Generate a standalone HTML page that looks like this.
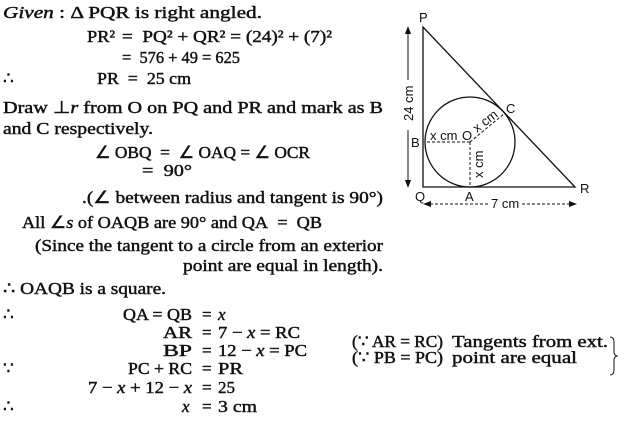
<!DOCTYPE html>
<html><head><meta charset="utf-8"><style>
html,body{margin:0;padding:0;background:#fff;width:630px;height:422px;overflow:hidden}
svg{display:block}
.t{font-family:"Liberation Serif",serif;font-size:17px;font-weight:normal;fill:#111;stroke:#111;stroke-width:0.45}
.s{font-family:"Liberation Sans",sans-serif;font-size:13px;fill:#111}
</style></head><body>
<svg width="630" height="422" viewBox="0 0 630 422" xmlns="http://www.w3.org/2000/svg">
<g class="t">
<text x="3" y="18" textLength="259" lengthAdjust="spacingAndGlyphs"><tspan font-style="italic">Given</tspan> : Δ PQR is right angled.</text>
<text x="87" y="42" textLength="28" lengthAdjust="spacingAndGlyphs">PR²</text>
<text x="122" y="42" textLength="210" lengthAdjust="spacingAndGlyphs">=&#160;&#160;PQ² + QR² = (24)² + (7)²</text>
<text x="122" y="63" textLength="118" lengthAdjust="spacingAndGlyphs">=&#160;&#160;576 + 49 = 625</text>
<text x="3" y="84">∴</text>
<text x="97" y="84" textLength="94" lengthAdjust="spacingAndGlyphs">PR&#160;&#160;=&#160;&#160;25 cm</text>
<text x="3" y="113" textLength="380" lengthAdjust="spacingAndGlyphs">Draw ⊥<tspan font-style="italic">r</tspan> from O on PQ and PR and mark as B</text>
<text x="3" y="134" textLength="150" lengthAdjust="spacingAndGlyphs">and C respectively.</text>
<text x="95" y="158" textLength="215" lengthAdjust="spacingAndGlyphs">∠ OBQ&#160;&#160;=&#160;&#160;∠ OAQ = ∠ OCR</text>
<text x="142" y="176" textLength="50" lengthAdjust="spacingAndGlyphs">=&#160;&#160;90°</text>
<text x="82" y="203" textLength="301" lengthAdjust="spacingAndGlyphs">.(∠ between radius and tangent is 90°)</text>
<text x="22" y="228" textLength="300" lengthAdjust="spacingAndGlyphs">All ∠<tspan font-style="italic">s</tspan> of OAQB are 90° and QA&#160;&#160;=&#160;&#160;QB</text>
<text x="35" y="251" textLength="348" lengthAdjust="spacingAndGlyphs">(Since the tangent to a circle from an exterior</text>
<text x="183" y="271" textLength="200" lengthAdjust="spacingAndGlyphs">point are equal in length).</text>
<text x="3" y="294" textLength="163" lengthAdjust="spacingAndGlyphs">∴ OAQB is a square.</text>

<text x="3" y="320">∴</text>
<text x="123" y="320" textLength="69" lengthAdjust="spacingAndGlyphs">QA = QB</text>
<text x="202" y="320">=</text>
<text x="218" y="320" font-style="italic">x</text>

<text x="163" y="338" textLength="29" lengthAdjust="spacingAndGlyphs">AR</text>
<text x="202" y="338">=</text>
<text x="218" y="338" textLength="82" lengthAdjust="spacingAndGlyphs">7 − <tspan font-style="italic">x</tspan> = RC</text>

<text x="163" y="356" textLength="29" lengthAdjust="spacingAndGlyphs">BP</text>
<text x="202" y="356">=</text>
<text x="218" y="356" textLength="89" lengthAdjust="spacingAndGlyphs">12 − <tspan font-style="italic">x</tspan> = PC</text>

<text x="3" y="374">∵</text>
<text x="128" y="374" textLength="64" lengthAdjust="spacingAndGlyphs">PC + RC</text>
<text x="202" y="374">=</text>
<text x="218" y="374" textLength="25" lengthAdjust="spacingAndGlyphs">PR</text>

<text x="88" y="393" textLength="104" lengthAdjust="spacingAndGlyphs">7 − <tspan font-style="italic">x</tspan> + 12 − <tspan font-style="italic">x</tspan></text>
<text x="202" y="393">=</text>
<text x="218" y="393">25</text>

<text x="3" y="412">∴</text>
<text x="182" y="412" font-style="italic">x</text>
<text x="202" y="412">=</text>
<text x="218" y="412" textLength="39" lengthAdjust="spacingAndGlyphs">3 cm</text>

<text x="352" y="347" textLength="91" lengthAdjust="spacingAndGlyphs">(∵ AR = RC)</text>
<text x="452" y="347" textLength="156" lengthAdjust="spacingAndGlyphs">Tangents from ext.</text>
<text x="352" y="363" textLength="91" lengthAdjust="spacingAndGlyphs">(∵ PB = PC)</text>
<text x="452" y="363" textLength="125" lengthAdjust="spacingAndGlyphs">point are equal</text>
</g>
<path d="M610 337 Q614 337 614 342 L614 352 Q614 355 617 356 Q614 357 614 360 L614 370 Q614 375 610 375" fill="none" stroke="#111" stroke-width="1"/>
<g stroke="#111" fill="none" stroke-width="1.3">
<path d="M423 27 L423 187 L575 187 Z"/>
<circle cx="470" cy="142" r="45"/>
</g>
<g stroke="#111" stroke-width="1" stroke-dasharray="3,2">
<line x1="470" y1="142" x2="425" y2="142"/>
<line x1="470" y1="142" x2="470" y2="187"/>
<line x1="470" y1="142" x2="505" y2="113"/>
<line x1="425" y1="204" x2="488" y2="204"/>
<line x1="522" y1="204" x2="575" y2="204"/>
</g>
<g stroke="#111" stroke-width="1">
<line x1="408" y1="28" x2="408" y2="80"/>
<line x1="408" y1="130" x2="408" y2="186"/>
</g>
<g fill="#111">
<path d="M408 26 L405 34 L411 34 Z"/>
<path d="M408 188 L405 180 L411 180 Z"/>
<path d="M423 204 L431 201 L431 207 Z"/>
<path d="M577 204 L569 201 L569 207 Z"/>
</g>
<g class="s">
<text x="419" y="22">P</text>
<text x="415" y="201">Q</text>
<text x="580" y="193">R</text>
<text x="465" y="201">A</text>
<text x="411" y="147">B</text>
<text x="506" y="113">C</text>
<text x="430" y="140">x cm</text>
<text x="462" y="140">O</text>
<text x="491" y="208">7 cm</text>
<text transform="translate(413,121) rotate(-90)">24 cm</text>
<text transform="translate(483,178) rotate(-90)">x cm</text>
<text transform="translate(477,133) rotate(-38)">x cm</text>
</g>
</svg>
</body></html>
